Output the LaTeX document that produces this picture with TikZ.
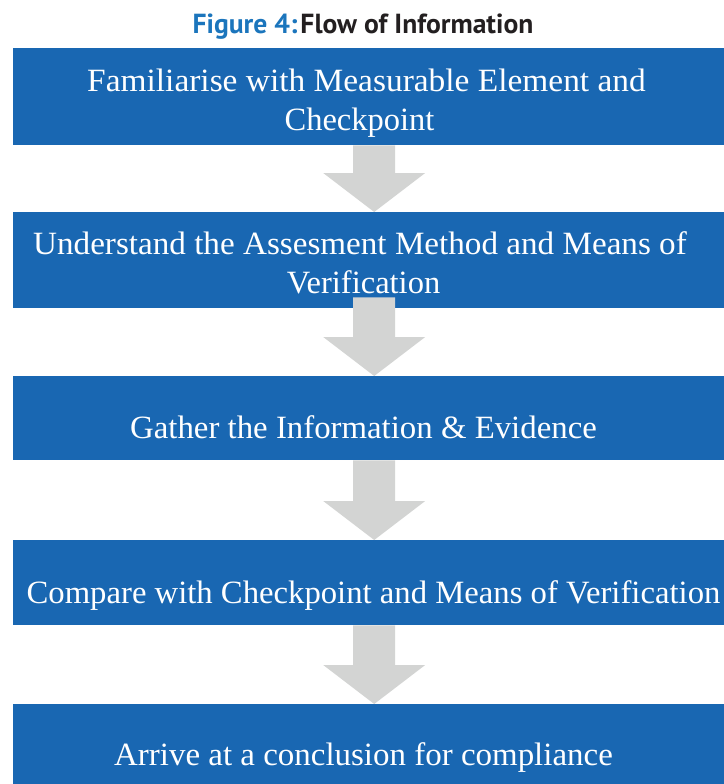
\documentclass[tikz,border=0pt]{standalone}
\usepackage{fontspec}
\setmainfont{Liberation Serif}
\newfontfamily\titlefont{PT Sans}
\usetikzlibrary{calc}
\definecolor{boxblue}{HTML}{1967B2}
\definecolor{arrowgray}{HTML}{D3D4D3}
\definecolor{titleblue}{HTML}{1B75BC}
\definecolor{titleblack}{HTML}{231F20}
% block arrow from a start coordinate down to a tip coordinate
\newcommand\flowarrow[2]{%
  \fill[flow] ($(#1)+(-21,0)$) -- ($(#1)+(21,0)$) -- ($(#2)+(21,-39)$)
    -- ($(#2)+(51,-39)$) -- (#2) -- ($(#2)+(-51,-39)$) -- ($(#2)+(-21,-39)$) -- cycle;}
\begin{document}
\begin{tikzpicture}[x=1bp,y=-1bp,
  stepbox/.style={fill=boxblue, draw=none, inner sep=0pt, minimum width=711bp, anchor=north west},
  steptext/.style={text=white, anchor=base, inner sep=0pt, font=\fontsize{32.5bp}{39bp}\selectfont},
  flow/.style={fill=arrowgray, draw=none}]
\useasboundingbox (0,0) rectangle (724,784);

% title
\node[anchor=base, inner sep=0pt, font=\titlefont\bfseries\fontsize{27.6bp}{32bp}\selectfont] (title) at (363,34)
  {\textcolor{titleblue}{Figure 4:}\hspace{3bp}\textcolor{titleblack}{Flow of Information}};

% process steps
\node[stepbox, minimum height=97bp] (s1) at (13,48) {};
\node[stepbox, minimum height=96bp] (s2) at (13,212) {};
\node[stepbox, minimum height=84bp] (s3) at (13,376) {};
\node[stepbox, minimum height=85bp] (s4) at (13,540) {};
\node[stepbox, minimum height=80bp] (s5) at (13,704) {};

% arrows between the steps
\coordinate (a1s) at ($(s1.south)+(5.5,0)$);
\coordinate (a1t) at ($(s2.north)+(5.5,0)$);
\coordinate (a2s) at ($(s2.south)+(5.5,-11)$);
\coordinate (a2t) at ($(s3.north)+(5.5,0)$);
\coordinate (a3s) at ($(s3.south)+(5.5,0)$);
\coordinate (a3t) at ($(s4.north)+(5.5,0)$);
\coordinate (a4s) at ($(s4.south)+(5.5,0)$);
\coordinate (a4t) at ($(s5.north)+(5.5,0)$);
\flowarrow{a1s}{a1t}
\flowarrow{a2s}{a2t}
\flowarrow{a3s}{a3t}
\flowarrow{a4s}{a4t}

% step labels
\node[steptext] (t1a) at (366.5,91) {\scalebox{1.028}[1]{Familiarise with Measurable Element and}};
\node[steptext] (t1b) at (359.5,130) {Checkpoint};
\node[steptext] (t2a) at (360,254) {\scalebox{1.02}[1]{Understand the Assesment Method and Means of}};
\node[steptext] (t2b) at (363.5,293) {Verification};
\node[steptext] (t3) at (363.5,438) {\scalebox{1.01}[1]{Gather the Information \& Evidence}};
\node[steptext] (t4) at (373.5,603) {\scalebox{1.006}[1]{Compare with Checkpoint and Means of Verification}};
\node[steptext] (t5) at (363.5,765) {\scalebox{1.014}[1]{Arrive at a conclusion for compliance}};
\end{tikzpicture}
\end{document}
